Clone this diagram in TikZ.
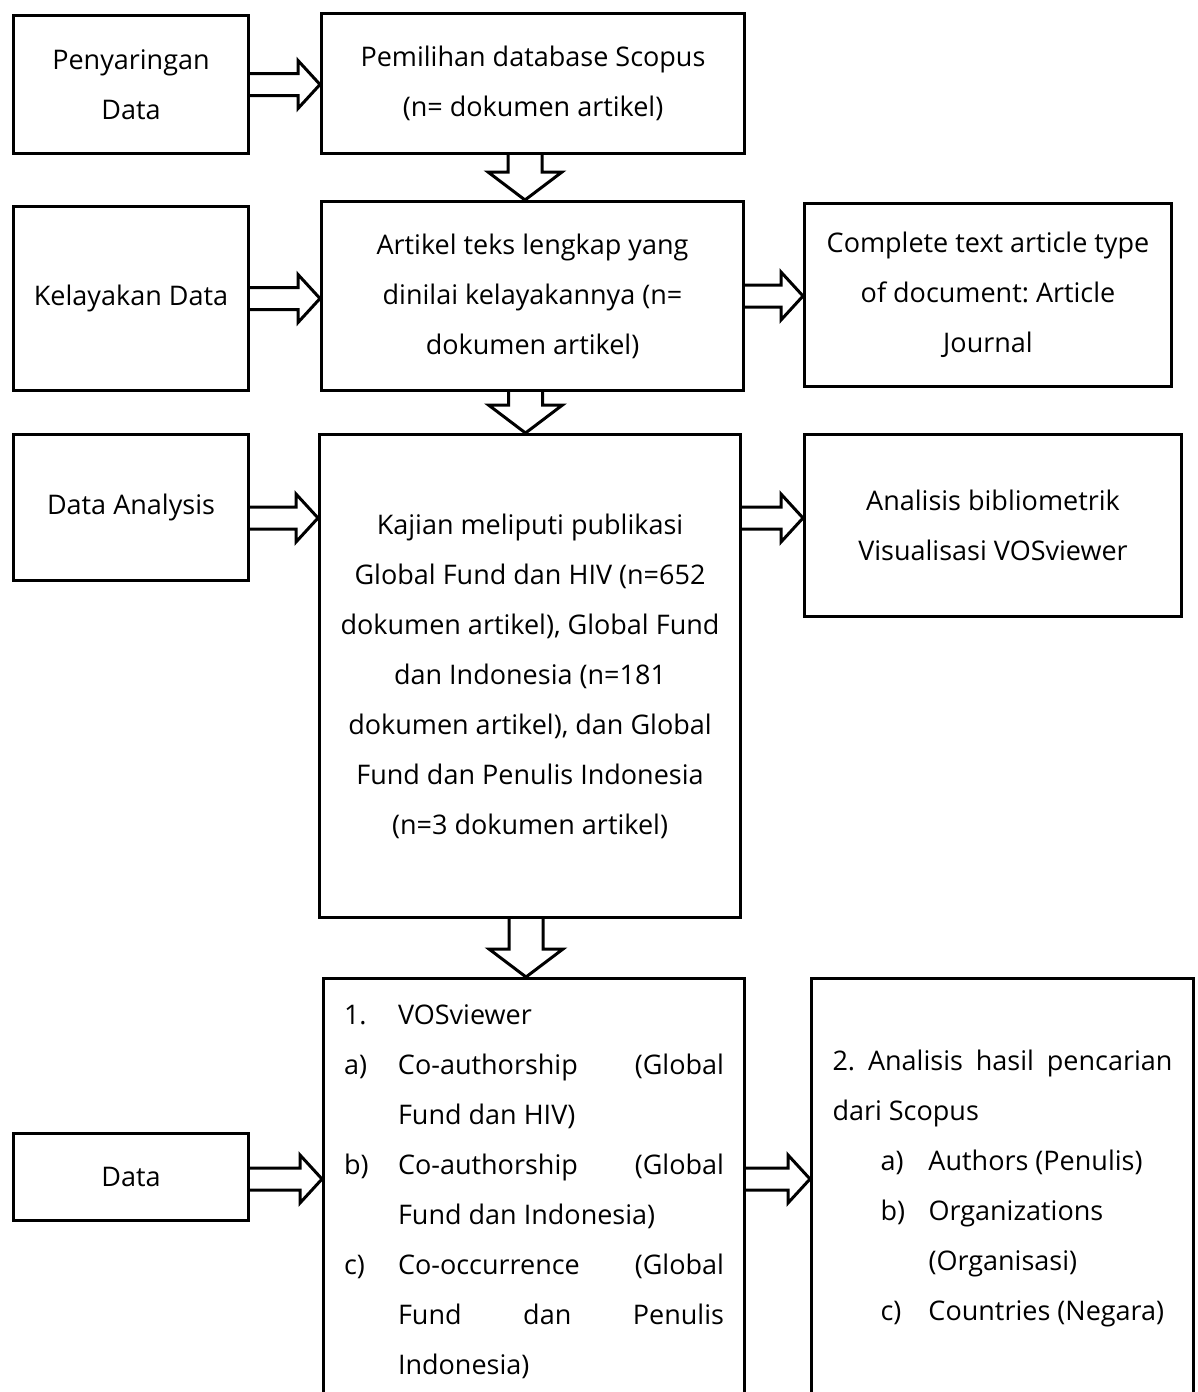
\documentclass[tikz,border=0pt]{standalone}
\usepackage{fontspec}
\setmainfont{Open Sans}
\usetikzlibrary{positioning,calc}
\frenchspacing

\newcommand{\lab}[2]{\makebox[#1][l]{#2}}
\newcommand{\jus}[2]{\makebox[#1][s]{#2}}

\tikzset{
  box/.style={draw, rectangle, line width=3pt, align=center, inner sep=0pt,
    font=\fontsize{27pt}{50pt}\selectfont},
  hblock/.style={line width=3pt, to path={let \p1=(\tikztostart), \p2=(\tikztotarget) in
    (\x1,\y1+11pt) -- (\x2-22pt,\y1+11pt) -- (\x2-22pt,\y1+24pt) -- (\x2,\y1)
    -- (\x2-22pt,\y1-24pt) -- (\x2-22pt,\y1-11pt) -- (\x1,\y1-11pt)}},
  vblock/.style={line width=3pt, to path={let \p1=(\tikztostart), \p2=(\tikztotarget) in
    (\x1-17pt,\y1) -- (\x1-17pt,\y2+28pt) -- (\x1-37pt,\y2+28pt) -- (\x1,\y2)
    -- (\x1+37pt,\y2+28pt) -- (\x1+17pt,\y2+28pt) -- (\x1+17pt,\y1)}}
}

\begin{document}
\begin{tikzpicture}[x=1pt,y=-1pt]
  \clip (0,0) rectangle (1198,1392);
  % left column
  \node[box, minimum width=235pt, minimum height=138pt] (pen) at (131,84.5) {Penyaringan\\Data};
  \node[box, minimum width=235pt, minimum height=184pt] (kel) at (131,298.5) {Kelayakan Data};
  \node[box, minimum width=235pt, minimum height=146pt] (ana) at (131,507.5) {Data Analysis};
  \node[box, minimum width=235pt, minimum height=87pt] (dat) at (131,1177) {Data};
  % middle column
  \node[box, minimum width=423pt, minimum height=140pt] (pem) at (533,83.5) {Pemilihan database Scopus\\(n= dokumen artikel)};
  \node[box, minimum width=422pt, minimum height=189pt] (art) at (532.5,296) {Artikel teks lengkap yang\\dinilai kelayakannya (n=\\dokumen artikel)};
  \node[box, minimum width=421pt, minimum height=483pt] (kaj) at (530,676) {Kajian meliputi publikasi\\Global Fund dan HIV (n=652\\dokumen artikel), Global Fund\\dan Indonesia (n=181\\dokumen artikel), dan Global\\Fund dan Penulis Indonesia\\(n=3 dokumen artikel)};
  \node[box, align=left, minimum width=421pt, minimum height=426pt] (vos) at (534,1191.5) {%
    \lab{54pt}{1.}\lab{326pt}{VOSviewer}\\
    \lab{54pt}{a)}\jus{326pt}{Co-authorship (Global}\\
    \lab{54pt}{}\lab{326pt}{Fund dan HIV)}\\
    \lab{54pt}{b)}\jus{326pt}{Co-authorship (Global}\\
    \lab{54pt}{}\lab{326pt}{Fund dan Indonesia)}\\
    \lab{54pt}{c)}\jus{326pt}{Co-occurrence (Global}\\
    \lab{54pt}{}\jus{326pt}{Fund dan Penulis}\\
    \lab{54pt}{}\lab{326pt}{Indonesia)}};
  % right column
  \node[box, minimum width=367pt, minimum height=183pt] (com) at (988,295) {Complete text article type\\of document: Article\\Journal};
  \node[box, minimum width=377pt, minimum height=182pt] (bib) at (993,525.5) {Analisis bibliometrik\\Visualisasi VOSviewer};
  \node[box, align=left, minimum width=382pt, minimum height=419pt] (has) at (1002.5,1188) {%
    \jus{340pt}{2. Analisis hasil pencarian}\\
    \lab{340pt}{dari Scopus}\\
    \hspace*{48pt}\lab{48pt}{a)}Authors (Penulis)\\
    \hspace*{48pt}\lab{48pt}{b)}Organizations\\
    \hspace*{48pt}\lab{48pt}{}(Organisasi)\\
    \hspace*{48pt}\lab{48pt}{c)}Countries (Negara)};
  % arrows
  \draw[hblock] (pen.east) to (pem.west);
  \draw[hblock] (kel.east) to (art.west);
  \draw[hblock] (art.east) to (com.west);
  \draw[hblock] ([yshift=-10.5pt]ana.east) to (kaj.west);
  \draw[hblock] ([yshift=-10.5pt]ana.east -| kaj.east) to (bib.west);
  \draw[hblock] ([yshift=-2pt]dat.east) to (vos.west);
  \draw[hblock] ([yshift=-2pt]dat.east -| vos.east) to (has.west);
  \draw[vblock] ([xshift=-8pt]pem.south) to (art.north);
  \draw[vblock] ([xshift=-7pt]art.south) to (kaj.north);
  \draw[vblock] ([xshift=-4pt]kaj.south) to (vos.north);
\end{tikzpicture}
\end{document}
